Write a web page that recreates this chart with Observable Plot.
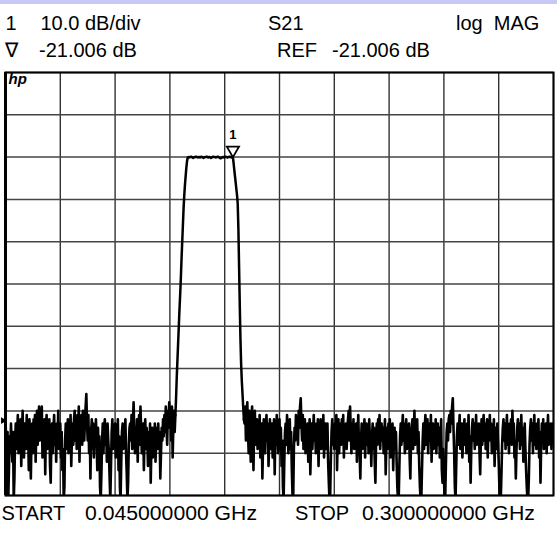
<!DOCTYPE html>
<html><head><meta charset="utf-8">
<script src="https://cdn.jsdelivr.net/npm/d3@7"></script>
<script src="https://cdn.jsdelivr.net/npm/@observablehq/plot@0.6"></script>
<style>
html,body{margin:0;padding:0;background:#fff;}
#wrap{position:relative;width:557px;height:535px;overflow:hidden;}
#band{position:absolute;left:0;top:0;width:557px;height:4px;background:#c8c8f6;}
#labels{position:absolute;left:0;top:0;pointer-events:none;}
#labels text{font-family:"Liberation Sans",Arial,sans-serif;font-size:20px;fill:#000;white-space:pre;}
</style></head><body>
<div id="wrap">
<div id="chart"></div>
<div id="band"></div>
<svg id="labels" width="557" height="535">
  <text x="5.5" y="29.5">1</text>
  <text x="40.5" y="29.5">10.0 dB/div</text>
  <text x="268" y="29.5">S21</text>
  <text x="456" y="29.5" xml:space="preserve">log  MAG</text>
  <text x="5" y="57">∇</text>
  <text x="39" y="57">-21.006 dB</text>
  <text x="277" y="57">REF</text>
  <text x="332" y="57">-21.006 dB</text>
  <text x="1.5" y="520">START</text>
  <text x="85" y="520" textLength="172" lengthAdjust="spacingAndGlyphs">0.045000000 GHz</text>
  <text x="295" y="520">STOP</text>
  <text x="362" y="520" textLength="173" lengthAdjust="spacingAndGlyphs">0.300000000 GHz</text>
</svg>
</div>
<script>
// Instrument settings
const START = 0.045, STOP = 0.300, POINTS = 801;
const REF = -21.006, DB_PER_DIV = 10, DIVS = 10, REF_DIV_FROM_TOP = 2;
const MARKER_INDEX = 332;
const REF_ARROW_DB = -83.3;

// S21 magnitude (dB): left noise floor
const leftNoise = [
  -83, -88, -92, -86, -102, -95, -87, -91, -84, -89,
  -93, -86, -102, -97, -88, -84, -90, -86, -82, -91,
  -85, -88, -83, -94, -87, -81, -89, -92, -84, -86,
  -90, -82, -88, -85, -95, -83, -89, -97, -86, -84,
  -91, -83, -87, -82, -93, -86, -81, -89, -84, -80,
  -88, -81, -86, -80, -92, -84, -89, -83, -96, -85,
  -82, -90, -86, -88, -83, -94, -98, -87, -84, -91,
  -85, -82, -89, -86, -93, -84, -88, -81, -90, -87,
  -84, -92, -86, -95, -90, -102, -99, -88, -84, -90,
  -86, -83, -91, -85, -88, -82, -94, -87, -84, -89,
  -83, -81, -88, -85, -90, -82, -87, -80, -93, -84,
  -86, -82, -89, -81, -85, -88, -83, -80, -77, -84,
  -88, -82, -91, -85, -97, -86, -83, -90, -84, -92,
  -86, -89, -83, -88, -95, -85, -90, -87, -99, -102,
  -96, -88, -84, -91, -85, -83, -89, -86, -93, -84,
  -88, -91, -97, -102, -94, -86, -83, -90, -85, -88,
  -84, -92, -86, -89, -83, -95, -87, -99, -102, -93,
  -86, -84, -90, -85, -88, -83, -91, -96, -102, -98,
  -89, -85, -84, -88, -82, -90, -84, -79, -86, -91,
  -85, -88, -83, -93, -86, -82, -89, -80, -85, -91,
  -86, -84, -95, -87, -83, -90, -85, -88, -94, -86,
  -90, -84, -98, -89, -85, -92, -86, -88, -84, -93,
  -87, -85, -90, -84, -89, -86, -97, -91, -85, -88,
  -83, -87, -82, -86, -80, -84, -89, -81, -85, -79,
  -84, -82, -88, -80, -92, -85, -81, -86
];
// passband: rising edge, flat top, marker point, falling edge
const passband = [
  -82, -78, -73, -69, -65, -61, -57, -53.5, -49.5, -45,
  -41, -37, -33, -30, -27.5, -25.5, -23.5, -22, -21.1,
  -21.0, -21.1, -21.0, -21.0, -20.9, -21.0, -21.1, -21.2, -21.1, -21.0,
  -21.0, -20.9, -21.0, -21.0, -21.1, -21.0, -21.0, -21.1, -21.0, -20.9,
  -21.0, -21.1, -21.2, -21.1, -21.0, -21.0, -21.0, -20.9, -21.0, -21.1,
  -21.0, -21.0, -21.1, -21.2, -21.1, -21.0, -20.9, -21.0, -21.0, -21.0,
  -21.1, -21.0, -21.0, -20.9, -21.0, -21.1, -21.2, -21.3, -21.2, -21.1,
  -21.0, -21.0, -21.1, -21.0, -20.9, -21.0, -21.0, -21.1, -21.0, -21.0,
  -20.9, -21.0, -21.0, -21.1, -21.0,
  -21.006,
  -22.5, -24, -25.5, -27, -28.5, -30, -32, -38, -47, -56,
  -64, -70, -74, -77, -80, -83
];
// right noise floor
const rightNoise = [
  -84, -80, -88, -82, -79, -86, -91, -81, -85, -93,
  -83, -80, -87, -95, -84, -81, -89, -86, -83, -90,
  -85, -88, -82, -92, -86, -84, -97, -89, -83, -87,
  -91, -85, -82, -88, -84, -94, -87, -83, -90, -86,
  -84, -92, -88, -83, -96, -85, -89, -82, -87, -91,
  -86, -83, -90, -85, -94, -88, -99, -102, -93, -86,
  -84, -89, -82, -87, -91, -85, -83, -90, -86, -95,
  -101, -102, -90, -85, -88, -82, -86, -83, -89, -81,
  -85, -80, -78, -84, -88, -82, -90, -86, -83, -91,
  -85, -88, -84, -93, -87, -83, -96, -89, -84, -90,
  -86, -82, -88, -85, -91, -84, -87, -83, -94, -86,
  -89, -83, -90, -85, -88, -82, -92, -86, -84, -90,
  -87, -84, -93, -98, -102, -101, -92, -86, -83, -89,
  -85, -90, -84, -88, -82, -95, -87, -83, -91, -86,
  -84, -89, -83, -87, -82, -92, -85, -88, -84, -90,
  -86, -83, -81, -88, -80, -85, -91, -84, -87, -83,
  -90, -85, -88, -84, -93, -86, -82, -89, -91, -97,
  -88, -84, -90, -85, -87, -83, -92, -86, -84, -89,
  -85, -91, -83, -88, -86, -94, -87, -84, -90, -85,
  -93, -98, -88, -84, -89, -83, -87, -82, -90, -86,
  -84, -88, -85, -91, -86, -83, -96, -89, -85, -90,
  -84, -87, -83, -92, -86, -89, -84, -95, -88, -85,
  -90, -86, -93, -99, -102, -102, -94, -87, -84, -89,
  -85, -82, -88, -84, -91, -86, -83, -90, -85, -88,
  -84, -92, -97, -88, -85, -83, -90, -86, -81, -89,
  -85, -88, -83, -91, -86, -94, -99, -102, -102, -95,
  -88, -84, -90, -85, -82, -89, -86, -83, -91, -87,
  -84, -88, -82, -93, -86, -84, -90, -85, -88, -83,
  -91, -86, -84, -89, -85, -92, -87, -83, -95, -98,
  -90, -96, -102, -101, -93, -86, -84, -88, -83, -82,
  -86, -81, -84, -80, -78, -85, -91, -99, -102, -94,
  -87, -84, -89, -85, -82, -90, -86, -84, -92, -88,
  -85, -83, -89, -86, -91, -84, -88, -82, -93, -87,
  -98, -90, -85, -83, -88, -84, -90, -86, -82, -89,
  -85, -88, -84, -91, -96, -87, -83, -89, -85, -82,
  -88, -84, -90, -86, -83, -92, -85, -88, -82, -87,
  -84, -91, -86, -89, -83, -94, -87, -85, -90, -84,
  -88, -93, -99, -102, -102, -96, -89, -85, -83, -88,
  -84, -90, -86, -82, -89, -85, -91, -84, -87, -83,
  -89, -81, -86, -84, -92, -88, -97, -90, -85, -83,
  -88, -84, -90, -86, -82, -89, -85, -93, -87, -84,
  -90, -95, -99, -102, -102, -97, -89, -85, -83, -88,
  -84, -91, -86, -82, -89, -85, -90, -84, -87, -83,
  -92, -86, -98, -89, -84, -88, -83, -90, -85, -87,
  -84, -91, -86, -82, -89, -85, -88, -84, -90, -86,
  -84, -87
];

const magnitude = [...leftNoise, ...passband, ...rightNoise];
const step = (STOP - START) / (POINTS - 1);
const trace = magnitude.map((db, i) => ({f: START + i * step, db}));
const marker = [trace[MARKER_INDEX]];
const nL = leftNoise.length, nP = passband.length;
const traceLeft = trace.slice(0, nL + 1);
const tracePass = trace.slice(nL, nL + nP);
const traceRight = trace.slice(nL + nP - 1);

const yTop = REF + REF_DIV_FROM_TOP * DB_PER_DIV;
const yBottom = yTop - DIVS * DB_PER_DIV;
const gridX = d3.range(DIVS + 1).map(k => START + k * (STOP - START) / DIVS);
const gridY = d3.range(DIVS + 1).map(k => yTop - k * DB_PER_DIV);

const lineOpts = {x: "f", y: "db", stroke: "#000", strokeLinejoin: "round", clip: true};
const chart = Plot.plot({
  width: 557,
  height: 535,
  marginLeft: 5,
  marginRight: 4,
  marginTop: 72,
  marginBottom: 40,
  style: {background: "#fff", fontFamily: "Liberation Sans, Arial, sans-serif"},
  x: {domain: [START, STOP], axis: null},
  y: {domain: [yBottom, yTop], axis: null},
  marks: [
    Plot.ruleX(gridX, {stroke: "#333", strokeWidth: 1.4}),
    Plot.ruleY(gridY, {stroke: "#444", strokeWidth: 1.5}),
    Plot.frame({stroke: "#000", strokeWidth: 2}),
    Plot.ruleX([START], {stroke: "#000", strokeWidth: 3}),
    Plot.line(traceLeft, {...lineOpts, strokeWidth: 2.6}),
    Plot.line(traceRight, {...lineOpts, strokeWidth: 2.6}),
    Plot.line(tracePass, {...lineOpts, strokeWidth: 2.5}),
    Plot.dot(marker, {x: "f", y: "db", symbol: "triangle", rotate: 180, r: 4.5, dy: -7, fill: "#fff", stroke: "#000", strokeWidth: 1.8}),
    Plot.text(marker, {x: "f", y: "db", text: () => "1", dy: -22, fontSize: 13, fontWeight: "bold", fill: "#000"}),
    Plot.text(["hp"], {frameAnchor: "top-left", dx: 3, dy: 1, lineAnchor: "top", textAnchor: "start", fontSize: 15, fontWeight: "bold", fontStyle: "italic", fill: "#000"}),
    Plot.dot([{f: START, db: REF_ARROW_DB}], {x: "f", y: "db", symbol: "triangle", rotate: 90, r: 2.5, dx: -2.5, fill: "#000"})
  ]
});
document.getElementById("chart").appendChild(chart);
</script>
</body></html>
